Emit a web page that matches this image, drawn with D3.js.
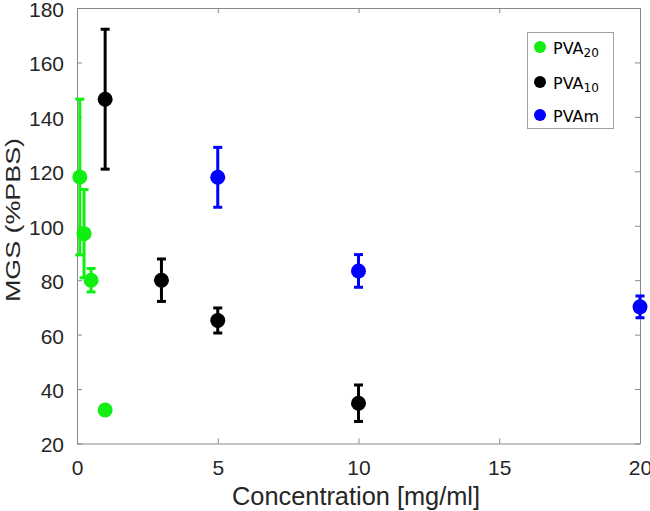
<!DOCTYPE html>
<html><head><meta charset="utf-8">
<script src="https://cdn.jsdelivr.net/npm/d3@7"></script>
<style>body{margin:0;background:#fff}svg{display:block;font-family:"Liberation Sans",Arial,sans-serif}</style>
</head><body><svg id="c" width="650" height="511"></svg>
<script>
const seriesNames = ["PVA20", "PVA10", "PVAm"];
const seriesColors = ["#11ee11", "#000000", "#0000ff"];
const pva20X = [0.1, 0.25, 0.5, 1];
const pva20Y = [117.9, 97.1, 80, 32.3];
const pva20Err = [28.6, 16.2, 4.3, 0];
const pva10X = [1, 3, 5, 10];
const pva10Y = [146.5, 80, 65.2, 34.8];
const pva10Err = [25.7, 7.8, 4.6, 6.7];
const pvamX = [5, 10, 20];
const pvamY = [117.8, 83.4, 70.2];
const pvamErr = [11, 6, 4];
const xTicks = [0, 5, 10, 15, 20];
const yTicks = [20, 40, 60, 80, 100, 120, 140, 160, 180];

const svg = d3.select("#c");
const L = 77, R = 640, T = 8, B = 443.5;
const x = d3.scaleLinear().domain([0, 20]).range([L, R]);
const y = d3.scaleLinear().domain([20, 180]).range([B, T]);
const axisCol = "#262626", lineCol = "#888888";

// axes
const gx = svg.append("g").attr("transform", `translate(0,${B})`)
  .call(d3.axisBottom(x).tickValues(xTicks).tickSizeInner(-5).tickSizeOuter(0).tickPadding(16.5));
const gxt = svg.append("g").attr("transform", `translate(0,${T})`)
  .call(d3.axisTop(x).tickValues(xTicks).tickSizeInner(-5).tickSizeOuter(0).tickFormat(""));
const gy = svg.append("g").attr("transform", `translate(${L},0)`)
  .call(d3.axisLeft(y).tickValues(yTicks).tickSizeInner(-5).tickSizeOuter(0).tickPadding(13));
const gyr = svg.append("g").attr("transform", `translate(${R},0)`)
  .call(d3.axisRight(y).tickValues(yTicks).tickSizeInner(-5).tickSizeOuter(0).tickFormat(""));
[gx, gxt, gy, gyr].forEach(g => {
  g.selectAll("path.domain").attr("stroke", lineCol).attr("stroke-width", 1);
  g.selectAll(".tick line").attr("stroke", lineCol);
  g.selectAll(".tick text").attr("fill", axisCol).style("font-size", "21px").style("font-family", "Liberation Sans, Arial, sans-serif");
});
gy.selectAll(".tick text").attr("dy", "0.4em");

svg.append("text").attr("x", 356).attr("y", 505).attr("text-anchor", "middle")
  .attr("fill", axisCol).style("font-size", "26px")
  .attr("textLength", 248).attr("lengthAdjust", "spacingAndGlyphs").text("Concentration [mg/ml]");
svg.append("text").attr("transform", `translate(20,220) rotate(-90)`).attr("text-anchor", "middle")
  .attr("fill", axisCol).style("font-size", "21px")
  .attr("textLength", 164).attr("lengthAdjust", "spacingAndGlyphs").text("MGS (%PBS)");

const series = [
  {xs: pva20X, ys: pva20Y, es: pva20Err, c: seriesColors[0]},
  {xs: pva10X, ys: pva10Y, es: pva10Err, c: seriesColors[1]},
  {xs: pvamX, ys: pvamY, es: pvamErr, c: seriesColors[2]}
];
series.forEach(s => {
  const g = svg.append("g");
  s.xs.forEach((xv, i) => {
    const e = s.es[i];
    if (e > 0) {
      const cx = x(xv), y1 = y(s.ys[i] + e), y2 = y(s.ys[i] - e);
      g.append("line").attr("x1", cx).attr("x2", cx).attr("y1", y1).attr("y2", y2).attr("stroke", s.c).attr("stroke-width", 3);
      [y1, y2].forEach(yy => g.append("line").attr("x1", cx - 4.5).attr("x2", cx + 4.5).attr("y1", yy).attr("y2", yy).attr("stroke", s.c).attr("stroke-width", 3));
    }
  });
  s.xs.forEach((xv, i) => {
    g.append("circle").attr("cx", x(xv)).attr("cy", y(s.ys[i])).attr("r", 7.5).attr("fill", s.c);
  });
});

// legend
const lg = svg.append("g");
lg.append("rect").attr("x", 527.5).attr("y", 32.5).attr("width", 86).attr("height", 96)
  .attr("fill", "#fff").attr("stroke", "#a0a0a0").attr("stroke-width", 1);
const subs = [["PVA", "20"], ["PVA", "10"], ["PVAm", ""]];
const ly = [47, 82, 115];
subs.forEach((s, i) => {
  lg.append("circle").attr("cx", 540).attr("cy", ly[i]).attr("r", 6).attr("fill", seriesColors[i]);
  const t = lg.append("text").attr("x", 553).attr("y", ly[i] + 6.5).attr("fill", "#000").style("font-size", "16px").style("font-family", "DejaVu Sans, sans-serif");
  t.append("tspan").text(s[0]);
  if (s[1]) t.append("tspan").attr("dy", 3).style("font-size", "12px").text(s[1]);
});
</script></body></html>
